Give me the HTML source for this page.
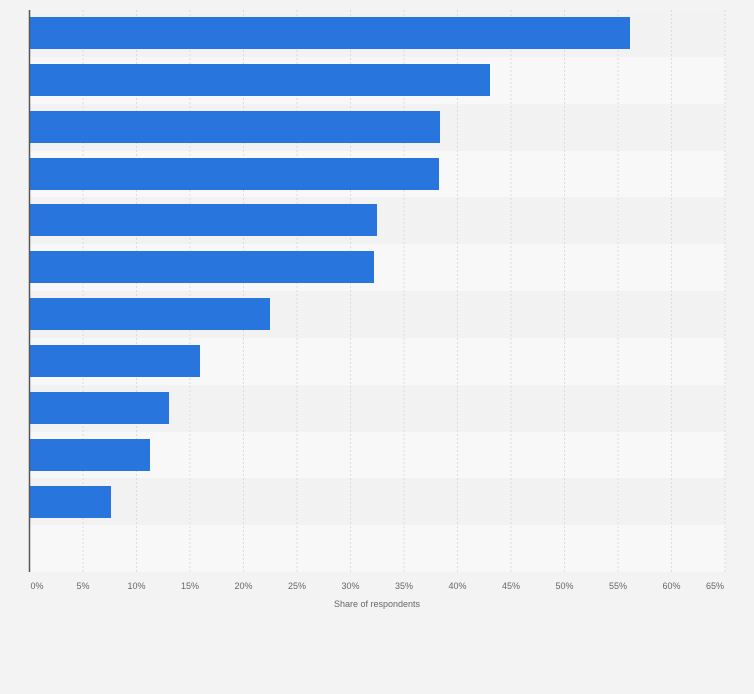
<!DOCTYPE html><html><head><style>body{margin:0;background:#f3f3f3;width:754px;height:689px;overflow:hidden}</style></head><body>
<svg width="754" height="689" xmlns="http://www.w3.org/2000/svg" font-family="Liberation Sans,sans-serif">
<rect width="754" height="689" fill="#f3f3f3"/>
<rect x="30" y="10" width="695" height="47" fill="#f2f2f2"/>
<rect x="30" y="57" width="695" height="47" fill="#f8f8f8"/>
<rect x="30" y="104" width="695" height="47" fill="#f2f2f2"/>
<rect x="30" y="151" width="695" height="47" fill="#f8f8f8"/>
<rect x="30" y="197" width="695" height="47" fill="#f2f2f2"/>
<rect x="30" y="244" width="695" height="47" fill="#f8f8f8"/>
<rect x="30" y="291" width="695" height="47" fill="#f2f2f2"/>
<rect x="30" y="338" width="695" height="47" fill="#f8f8f8"/>
<rect x="30" y="385" width="695" height="47" fill="#f2f2f2"/>
<rect x="30" y="432" width="695" height="47" fill="#f8f8f8"/>
<rect x="30" y="478" width="695" height="47" fill="#f2f2f2"/>
<rect x="30" y="525" width="695" height="47" fill="#f8f8f8"/>
<g stroke="#dcdcdc" stroke-dasharray="2,2">
<line x1="83" y1="10" x2="83" y2="572"/><line x1="136.5" y1="10" x2="136.5" y2="572"/><line x1="190" y1="10" x2="190" y2="572"/><line x1="243.5" y1="10" x2="243.5" y2="572"/><line x1="297" y1="10" x2="297" y2="572"/><line x1="350.5" y1="10" x2="350.5" y2="572"/><line x1="404" y1="10" x2="404" y2="572"/><line x1="457.5" y1="10" x2="457.5" y2="572"/><line x1="511" y1="10" x2="511" y2="572"/><line x1="564.5" y1="10" x2="564.5" y2="572"/><line x1="618" y1="10" x2="618" y2="572"/><line x1="671.5" y1="10" x2="671.5" y2="572"/><line x1="725" y1="10" x2="725" y2="572"/>
</g>
<g fill="#2876dd">
<rect x="30" y="17" width="600" height="32"/>
<rect x="30" y="64" width="460" height="32"/>
<rect x="30" y="111" width="410" height="32"/>
<rect x="30" y="158" width="409" height="32"/>
<rect x="30" y="204" width="347" height="32"/>
<rect x="30" y="251" width="344" height="32"/>
<rect x="30" y="298" width="240" height="32"/>
<rect x="30" y="345" width="170" height="32"/>
<rect x="30" y="392" width="139" height="32"/>
<rect x="30" y="439" width="120" height="32"/>
<rect x="30" y="486" width="81" height="32"/>
</g>
<line x1="29.5" y1="10" x2="29.5" y2="572" stroke="#555" stroke-width="1.5"/>
<g font-size="9" fill="#666" text-anchor="middle">
<text x="37" y="589">0%</text><text x="83" y="589">5%</text><text x="136.5" y="589">10%</text><text x="190" y="589">15%</text><text x="243.5" y="589">20%</text><text x="297" y="589">25%</text><text x="350.5" y="589">30%</text><text x="404" y="589">35%</text><text x="457.5" y="589">40%</text><text x="511" y="589">45%</text><text x="564.5" y="589">50%</text><text x="618" y="589">55%</text><text x="671.5" y="589">60%</text><text x="715" y="589">65%</text>
<text x="377" y="607">Share of respondents</text>
</g>
</svg></body></html>
